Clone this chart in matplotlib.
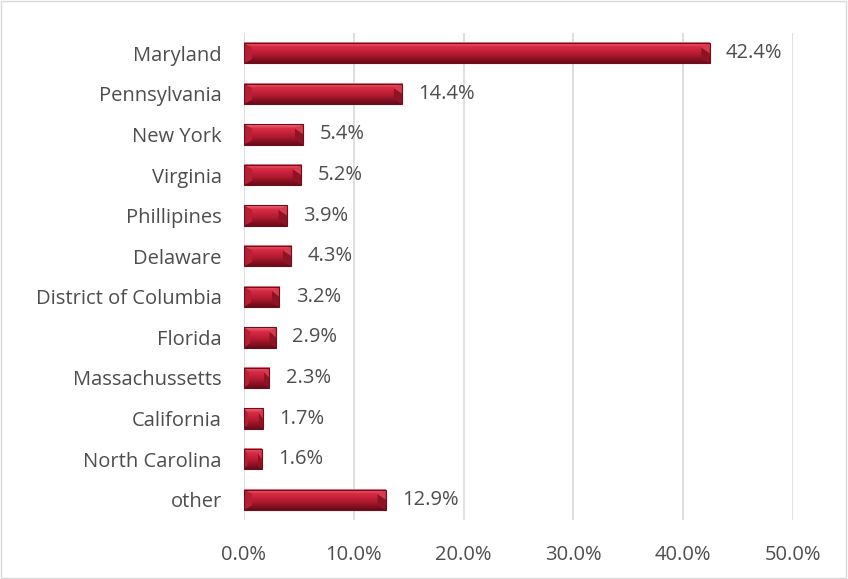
import matplotlib
matplotlib.use("Agg")
import matplotlib.pyplot as plt
import numpy as np
from matplotlib.colors import LinearSegmentedColormap
from matplotlib.patches import Rectangle, Polygon
from matplotlib.ticker import FuncFormatter

states = ["Maryland", "Pennsylvania", "New York", "Virginia", "Phillipines",
          "Delaware", "District of Columbia", "Florida", "Massachussetts",
          "California", "North Carolina", "other"]
shares = [42.4, 14.4, 5.4, 5.2, 3.9, 4.3, 3.2, 2.9, 2.3, 1.7, 1.6, 12.9]
x_ticks = [0, 10, 20, 30, 40, 50]

plt.rcParams['font.family'] = ['Open Sans', 'DejaVu Sans']
text_col = "#4d4d4d"

fig = plt.figure(figsize=(8.48, 5.79), dpi=100)
ax = fig.add_axes([0.2877, 0.1019, 0.6474, 0.8411])

# bevel-like vertical gradient: light top, dark bottom
grad = LinearSegmentedColormap.from_list(
    "bevel", ["#ee7482", "#d92e45", "#c8223a", "#b01a30", "#8a1222", "#6a0c18"])
g = np.linspace(0, 1, 64).reshape(-1, 1)

h = 0.5
n = len(states)
for i, (name, v) in enumerate(zip(states, shares)):
    y = i
    # y axis is inverted: y - h/2 is the visual top
    ax.imshow(g, cmap=grad, aspect="auto", origin="upper",
              extent=(0, v, y + h / 2, y - h / 2), zorder=2,
              interpolation="bilinear")
    bw = min(0.75, v * 0.2)
    bh = h * 0.22
    # end facets
    ax.add_patch(Polygon([(v - bw, y - h / 2 + bh), (v, y - h / 2), (v, y)],
                         closed=True, facecolor="#d63a4e", edgecolor="none", zorder=3))
    ax.add_patch(Polygon([(v - bw, y - h / 2 + bh), (v, y), (v, y + h / 2),
                          (v - bw, y + h / 2 - bh)], closed=True,
                         facecolor="#8e1325", edgecolor="none", zorder=3))
    ax.add_patch(Polygon([(0, y - h / 2), (bw, y - h / 2 + bh), (bw, y + h / 2 - bh),
                          (0, y + h / 2)], closed=True,
                         facecolor="#b81f34", edgecolor="none", zorder=3))
    ax.add_patch(Rectangle((0, y - h / 2), v, h, facecolor="none",
                           edgecolor="#6e0d1b", lw=0.8, zorder=4))
    ax.text(v + 1.5, y, f"{v:.1f}%", va="center", ha="left",
            fontsize=14.5, color=text_col, zorder=5)

ax.set_xlim(0, 50)
ax.set_ylim(n - 0.5, -0.5)
ax.set_xticks(x_ticks)
ax.xaxis.set_major_formatter(FuncFormatter(lambda x, _: f"{x:.1f}%"))
ax.set_yticks(range(n))
ax.set_yticklabels(states)
ax.tick_params(axis="both", length=0, labelsize=14.5, labelcolor=text_col)
ax.tick_params(axis="x", pad=18)
ax.tick_params(axis="y", pad=16)
ax.grid(axis="x", color="#d9d9d9", lw=1.2, zorder=0)
ax.set_axisbelow(True)
for s in ax.spines.values():
    s.set_visible(False)

fig.patches.append(Rectangle((0.001, 0.001), 0.997, 0.997, transform=fig.transFigure,
                             facecolor="none", edgecolor="#d9d9d9", lw=1))

fig.savefig("out.png", dpi=100)
